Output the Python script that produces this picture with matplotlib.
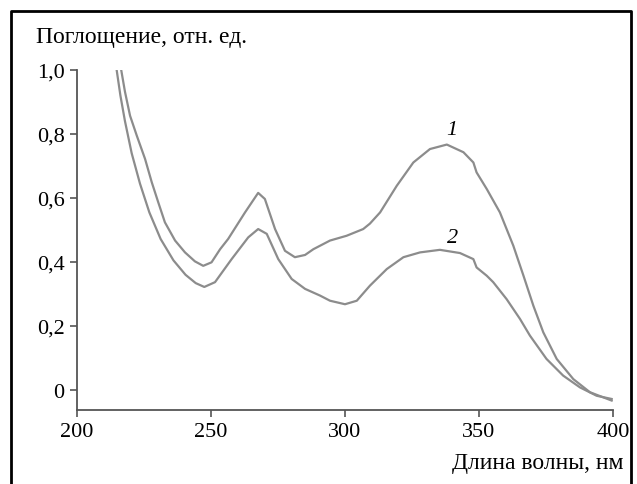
import matplotlib
matplotlib.use("Agg")
import matplotlib.pyplot as plt

# curve 1 (upper)
wl1 = [216.5, 217.9, 219.8, 222.3, 225.4, 227.9, 230.3, 232.8, 236.6, 240.3,
       244.0, 247.1, 250.2, 253.4, 256.4, 262.7, 267.6, 270.1, 273.9, 277.6,
       281.3, 285.1, 288.2, 294.4, 300.6, 306.8, 309.3, 313.1, 319.3, 325.5,
       331.7, 338.0, 344.2, 347.9, 349.1, 352.9, 357.8, 362.8, 366.6, 370.3,
       374.0, 379.0, 385.2, 391.4, 399.5]
abs1 = [1.000, 0.932, 0.857, 0.795, 0.722, 0.649, 0.587, 0.524, 0.467, 0.430,
        0.402, 0.388, 0.399, 0.440, 0.472, 0.555, 0.616, 0.597, 0.503, 0.435,
        0.415, 0.422, 0.440, 0.467, 0.482, 0.503, 0.520, 0.555, 0.638, 0.711,
        0.753, 0.767, 0.743, 0.711, 0.680, 0.628, 0.555, 0.451, 0.357, 0.263,
        0.180, 0.097, 0.034, -0.007, -0.033]

# curve 2 (lower)
wl2 = [214.8, 216.2, 217.9, 220.4, 223.5, 227.0, 231.2, 236.0, 240.5, 244.3,
       247.5, 251.5, 257.7, 263.9, 267.6, 270.8, 275.1, 280.1, 285.1, 290.7,
       294.4, 300.0, 304.4, 309.3, 315.6, 321.8, 328.0, 335.4, 342.9, 347.9,
       349.1, 352.9, 355.3, 360.3, 365.3, 369.0, 375.2, 381.4, 387.7, 393.9,
       399.5]
abs2 = [1.000, 0.920, 0.840, 0.740, 0.645, 0.555, 0.472, 0.405, 0.360, 0.334,
        0.322, 0.337, 0.409, 0.477, 0.503, 0.488, 0.409, 0.347, 0.316, 0.295,
        0.279, 0.268, 0.279, 0.326, 0.378, 0.415, 0.430, 0.438, 0.428, 0.409,
        0.383, 0.357, 0.337, 0.284, 0.222, 0.170, 0.097, 0.045, 0.008, -0.018,
        -0.028]

xticks = [200, 250, 300, 350, 400]
yticks = [0, 0.2, 0.4, 0.6, 0.8, 1.0]
ytick_labels = ["0", "0,2", "0,4", "0,6", "0,8", "1,0"]

plt.rcParams['font.family'] = ['Liberation Serif', 'DejaVu Serif']

W, H = 637, 485
fig = plt.figure(figsize=(W / 100, H / 100), dpi=100)
ax = fig.add_axes([77 / W, 74 / H, 536 / W, 340 / H])

line_col = '#8c8c8c'
ax.plot(wl1, abs1, color=line_col, lw=1.6)
ax.plot(wl2, abs2, color=line_col, lw=1.6)

ax.text(340, 0.785, '1', style='italic', fontsize=16, ha='center', va='bottom')
ax.text(340, 0.448, '2', style='italic', fontsize=16, ha='center', va='bottom')

ax.set_xlim(200, 400)
ax.set_ylim(-0.0625, 1.0)
ax.set_xticks(xticks)
ax.set_xticklabels([str(t) for t in xticks])
ax.set_yticks(yticks)
ax.set_yticklabels(ytick_labels)
ax.spines['top'].set_visible(False)
ax.spines['right'].set_visible(False)
for s in ('left', 'bottom'):
    ax.spines[s].set_color('#555555')
    ax.spines[s].set_linewidth(1.3)
ax.tick_params(direction='out', length=5, width=1.2, color='#555555',
               labelsize=16, pad=4)

fig.text(36 / W, 1 - 38 / H, 'Поглощение, отн. ед.', fontsize=17,
         ha='left', va='center')
fig.text(624 / W, 1 - 463 / H, 'Длина волны, нм', fontsize=17,
         ha='right', va='center')

# frame around the figure (open at the bottom)
fig.add_artist(plt.Line2D([11 / W, 11 / W, 631 / W, 631 / W],
                          [0, 1 - 12 / H, 1 - 12 / H, 0],
                          transform=fig.transFigure, color='black', lw=2))

fig.savefig('out.png', dpi=100)
